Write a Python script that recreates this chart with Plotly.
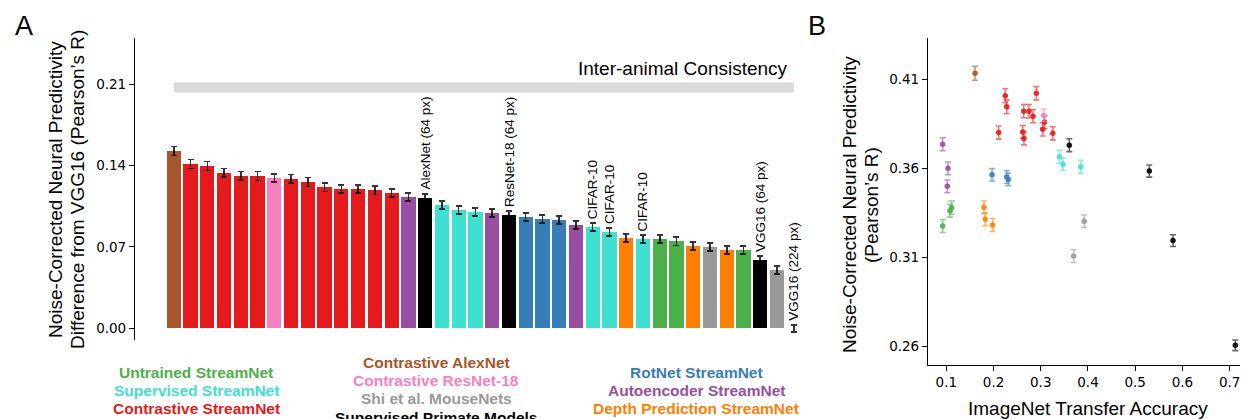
import plotly.graph_objects as go

# ---------------- Panel A data ----------------
bar_groups = [
    "Contrastive AlexNet",
    "Contrastive StreamNet", "Contrastive StreamNet", "Contrastive StreamNet",
    "Contrastive StreamNet", "Contrastive StreamNet",
    "Contrastive ResNet-18",
    "Contrastive StreamNet", "Contrastive StreamNet", "Contrastive StreamNet",
    "Contrastive StreamNet", "Contrastive StreamNet", "Contrastive StreamNet",
    "Contrastive StreamNet",
    "Autoencoder StreamNet",
    "Supervised Primate Models",
    "Supervised StreamNet", "Supervised StreamNet", "Supervised StreamNet",
    "Autoencoder StreamNet",
    "Supervised Primate Models",
    "RotNet StreamNet", "RotNet StreamNet", "RotNet StreamNet",
    "Autoencoder StreamNet",
    "Supervised StreamNet", "Supervised StreamNet",
    "Depth Prediction StreamNet",
    "Supervised StreamNet",
    "Untrained StreamNet", "Untrained StreamNet",
    "Depth Prediction StreamNet",
    "Shi et al. MouseNets",
    "Depth Prediction StreamNet",
    "Untrained StreamNet",
    "Supervised Primate Models",
    "Shi et al. MouseNets",
    "Supervised Primate Models",
]
bar_values = [
    0.1526, 0.1414, 0.1397, 0.1337, 0.1311, 0.1311, 0.1294, 0.1285, 0.1259,
    0.1216, 0.1199, 0.1199, 0.1190, 0.1165, 0.1130, 0.1121, 0.1061, 0.1018,
    0.1001, 0.0992, 0.0975, 0.0958, 0.0941, 0.0932, 0.0889, 0.0872, 0.0829,
    0.0777, 0.0769, 0.0769, 0.0751, 0.0708, 0.0700, 0.0674, 0.0674, 0.0588,
    0.0502, 0.0000,
]
bar_errors = [
    0.0040, 0.0039, 0.0039, 0.0037, 0.0037, 0.0038, 0.0035, 0.0037, 0.0038,
    0.0037, 0.0036, 0.0036, 0.0037, 0.0036, 0.0036, 0.0036, 0.0036, 0.0035,
    0.0036, 0.0036, 0.0034, 0.0035, 0.0036, 0.0036, 0.0036, 0.0034, 0.0035,
    0.0036, 0.0034, 0.0036, 0.0037, 0.0036, 0.0035, 0.0036, 0.0036, 0.0033,
    0.0036, 0.0030,
]
bar_labels = [""] * 38
bar_labels[15] = "AlexNet (64 px)"
bar_labels[20] = "ResNet-18 (64 px)"
bar_labels[25] = "CIFAR-10"
bar_labels[26] = "CIFAR-10"
bar_labels[28] = "CIFAR-10"
bar_labels[35] = "VGG16 (64 px)"
bar_labels[37] = "VGG16 (224 px)"

inter_animal_consistency = 0.2072
a_ticks = [0.00, 0.07, 0.14, 0.21]

# ---------------- Panel B data ----------------
scatter_groups = {
    "Contrastive AlexNet": ([0.1608], [0.4132], [0.0039]),
    "Autoencoder StreamNet": ([0.0924, 0.1036, 0.1021],
                              [0.3733, 0.3598, 0.3497],
                              [0.0036, 0.0036, 0.0036]),
    "Untrained StreamNet": ([0.0924, 0.1078, 0.1114],
                            [0.3274, 0.3360, 0.3377],
                            [0.0036, 0.0036, 0.0037]),
    "Depth Prediction StreamNet": ([0.1798, 0.1826, 0.1982],
                                   [0.3379, 0.3312, 0.3280],
                                   [0.0036, 0.0036, 0.0036]),
    "RotNet StreamNet": ([0.1968, 0.2279, 0.2313],
                         [0.3562, 0.3549, 0.3536],
                         [0.0035, 0.0036, 0.0036]),
    "Contrastive StreamNet": ([0.2249, 0.2279, 0.2109, 0.2906, 0.2639, 0.2751,
                               0.2836, 0.2618, 0.2645, 0.3041, 0.3079, 0.3255],
                              [0.4006, 0.3944, 0.3799, 0.4020, 0.3919, 0.3919,
                               0.3891, 0.3802, 0.3766, 0.3817, 0.3857, 0.3795],
                              [0.0039, 0.0039, 0.0037, 0.0037, 0.0037, 0.0038,
                               0.0037, 0.0036, 0.0036, 0.0037, 0.0036, 0.0037]),
    "Contrastive ResNet-18": ([0.3062], [0.3895], [0.0035]),
    "Supervised StreamNet": ([0.3397, 0.3471, 0.3848],
                             [0.3663, 0.3621, 0.3607],
                             [0.0036, 0.0035, 0.0036]),
    "Shi et al. MouseNets": ([0.3920, 0.3697],
                             [0.3301, 0.3105],
                             [0.0035, 0.0036]),
    "Supervised Primate Models": ([0.3604, 0.5298, 0.5800, 0.7119],
                                  [0.3728, 0.3583, 0.3192, 0.2604],
                                  [0.0036, 0.0034, 0.0033, 0.0030]),
}
b_xticks = [0.1, 0.2, 0.3, 0.4, 0.5, 0.6, 0.7]
b_yticks = [0.26, 0.31, 0.36, 0.41]

# ---------------- styling ----------------
colors = {
    "Untrained StreamNet": "#4daf4a",
    "Supervised StreamNet": "#40e0d0",
    "Contrastive StreamNet": "#e41a1c",
    "Contrastive AlexNet": "#a65628",
    "Contrastive ResNet-18": "#f781bf",
    "Shi et al. MouseNets": "#999999",
    "Supervised Primate Models": "#000000",
    "RotNet StreamNet": "#377eb8",
    "Autoencoder StreamNet": "#984ea3",
    "Depth Prediction StreamNet": "#ff7f00",
}


def rgba(hex_color, a):
    h = hex_color.lstrip("#")
    r, g, b = int(h[0:2], 16), int(h[2:4], 16), int(h[4:6], 16)
    return f"rgba({r},{g},{b},{a})"


# The page body has an 8 px default margin, so the figure starts at (8, 8).
OFF = 8
W, H = 1248 - OFF, 419 - OFF


def px(x):
    return (x - OFF) / W


def py(y):
    return 1 - (y - OFF) / H


ARIAL = "Liberation Sans, Arial, Helvetica, sans-serif"
TICKFONT = dict(family="DejaVu Sans, sans-serif", size=13.5, color="black")

fig = go.Figure()

# Panel A bars
fig.add_trace(go.Bar(
    x=list(range(len(bar_values))),
    y=bar_values,
    width=0.85,
    marker=dict(color=[colors[g] for g in bar_groups], line=dict(width=0)),
    error_y=dict(type="data", array=bar_errors, color="rgba(0,0,0,0.8)",
                 thickness=1.6, width=3),
    xaxis="x", yaxis="y", hoverinfo="skip",
))

# Inter-animal consistency band
fig.add_trace(go.Scatter(
    x=[0, len(bar_values) - 1],
    y=[inter_animal_consistency, inter_animal_consistency],
    mode="lines", line=dict(color="#d9d9d9", width=10),
    xaxis="x", yaxis="y", hoverinfo="skip",
))

# Panel B scatter
for g, (xs, ys, es) in scatter_groups.items():
    c = colors[g]
    fig.add_trace(go.Scatter(
        x=xs, y=ys, mode="markers",
        marker=dict(color=rgba(c, 0.9), size=5.5, line=dict(width=0)),
        error_y=dict(type="data", array=es, color=rgba(c, 0.6),
                     thickness=1.6, width=3),
        xaxis="x2", yaxis="y2", hoverinfo="skip",
    ))

annotations = []

# bar labels
for i, lab in enumerate(bar_labels):
    if lab:
        annotations.append(dict(
            x=i, y=bar_values[i] + bar_errors[i] + 0.0025,
            xref="x", yref="y", text=lab, textangle=-90,
            xanchor="center", yanchor="bottom", showarrow=False,
            font=dict(family=ARIAL, size=13.5, color="black"), borderpad=0,
        ))

annotations.append(dict(
    x=px(790), y=py(68), xref="paper", yref="paper",
    text="Inter-animal Consistency", xanchor="right", yanchor="middle",
    showarrow=False, font=dict(family=ARIAL, size=19, color="black"),
))

# axis titles
for text, xx, yy in [
    ("Noise-Corrected Neural Predictivity", 55, 190),
    ("Difference from VGG16 (Pearson\u2019s R)", 77, 190),
    ("Noise-Corrected Neural Predictivity", 849, 205),
    ("(Pearson\u2019s R)", 871, 205),
]:
    annotations.append(dict(
        x=px(xx), y=py(yy), xref="paper", yref="paper", text=text,
        textangle=-90, xanchor="center", yanchor="middle", showarrow=False,
        font=dict(family=ARIAL, size=19, color="black"),
    ))
annotations.append(dict(
    x=px(1088), y=py(408), xref="paper", yref="paper",
    text="ImageNet Transfer Accuracy", xanchor="center", yanchor="middle",
    showarrow=False, font=dict(family=ARIAL, size=19, color="black"),
))

# panel letters
for text, xx in [("A", 24), ("B", 817)]:
    annotations.append(dict(
        x=px(xx), y=py(26), xref="paper", yref="paper", text=text,
        xanchor="center", yanchor="middle", showarrow=False,
        font=dict(family=ARIAL, size=27, color="black"),
    ))

# colour legend text
legend_cols = [
    (196, 372.3, ["Untrained StreamNet", "Supervised StreamNet",
                  "Contrastive StreamNet"]),
    (436, 362.3, ["Contrastive AlexNet", "Contrastive ResNet-18",
                  "Shi et al. MouseNets", "Supervised Primate Models"]),
    (696, 372.3, ["RotNet StreamNet", "Autoencoder StreamNet",
                  "Depth Prediction StreamNet"]),
]
for cx, y0, names in legend_cols:
    for k, name in enumerate(names):
        annotations.append(dict(
            x=px(cx), y=py(y0 + 18.3 * k), xref="paper", yref="paper",
            text=f"<b>{name}</b>", xanchor="center", yanchor="middle",
            showarrow=False,
            font=dict(family=ARIAL, size=15.5, color=colors[name]),
        ))

fig.update_layout(
    width=W, height=H,
    margin=dict(l=0, r=0, t=0, b=0),
    paper_bgcolor="white", plot_bgcolor="white",
    showlegend=False,
    bargap=0,
    xaxis=dict(domain=[px(135), px(810)], range=[-2.316, 37.97],
               visible=False, fixedrange=True),
    yaxis=dict(domain=[py(340), py(38.3)],
               range=[(328.3 - 340) / 1162, (328.3 - 38.3) / 1162],
               showline=True, linecolor="black", linewidth=1.2,
               ticks="outside", ticklen=5, tickwidth=1.2, tickcolor="black",
               tickvals=a_ticks, ticktext=[f"{t:.2f}" for t in a_ticks],
               tickfont=TICKFONT, showgrid=False, zeroline=False),
    xaxis2=dict(domain=[px(928), px(1246)],
                range=[0.1 - (946.3 - 928) / 472.3, 0.1 + (1246 - 946.3) / 472.3],
                anchor="y2", showline=True, linecolor="black", linewidth=1.2,
                ticks="outside", ticklen=5, tickwidth=1.2, tickcolor="black",
                tickvals=b_xticks, ticktext=[f"{t:.1f}" for t in b_xticks],
                tickfont=TICKFONT, showgrid=False, zeroline=False),
    yaxis2=dict(domain=[py(365), py(38)],
                range=[0.41 - (365 - 79) / 1780, 0.41 + (79 - 38) / 1780],
                anchor="x2", showline=True, linecolor="black", linewidth=1.2,
                ticks="outside", ticklen=5, tickwidth=1.2, tickcolor="black",
                tickvals=b_yticks, ticktext=[f"{t:.2f}" for t in b_yticks],
                tickfont=TICKFONT, showgrid=False, zeroline=False),
    annotations=annotations,
)

fig.write_html("out.html")
